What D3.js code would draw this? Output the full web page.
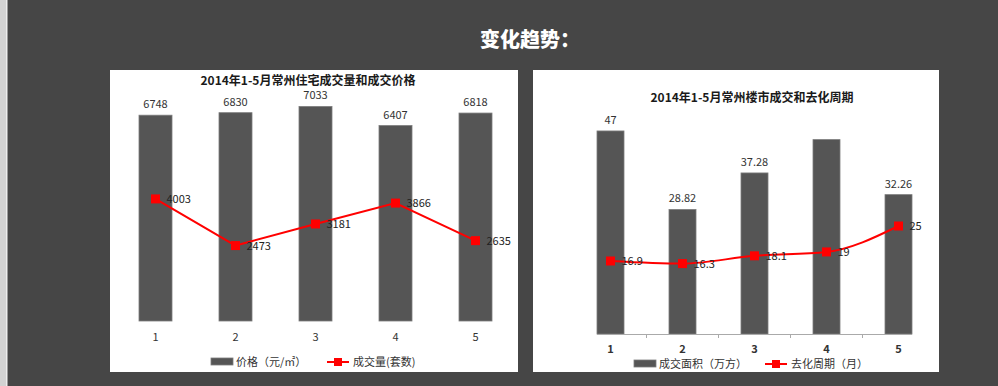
<!DOCTYPE html>
<html>
<head>
<meta charset="utf-8">
<script src="https://cdn.jsdelivr.net/npm/d3@7"></script>
<style>
  body { margin: 0; background: #464646; }
  svg { display: block; }
  text { font-family: "Noto Sans CJK SC", "Noto Sans", sans-serif; }
</style>
</head>
<body>
<script>
// data
const months = ['1', '2', '3', '4', '5']

const price = [6748, 6830, 7033, 6407, 6818]
const volume = [4003, 2473, 3181, 3866, 2635]

const area = [47, 28.82, 37.28, 45, 32.26]
const areaLabels = ['47', '28.82', '37.28', '', '32.26']
const cycle = [16.9, 16.3, 18.1, 19, 25]

let svg = d3.select('body')
    .append('svg')
    .attr('width', 998)
    .attr('height', 386)

// page frame
svg.append('rect').attr('x', 0).attr('y', 0).attr('width', 998).attr('height', 386).attr('fill', '#464646')
svg.append('rect').attr('x', 0).attr('y', 0).attr('width', 6).attr('height', 386).attr('fill', '#d2d2d2')
svg.append('rect').attr('x', 6).attr('y', 0).attr('width', 1.5).attr('height', 386).attr('fill', '#ececec')

svg.append('text')
    .text('变化趋势：')
    .attr('x', 530)
    .attr('y', 47)
    .attr('text-anchor', 'middle')
    .attr('fill', '#fff')
    .attr('font-size', 20)
    .attr('font-weight', 900)

function drawChart(o) {
    let g = svg.append('g')
    g.append('rect')
        .attr('x', o.box[0]).attr('y', o.box[1])
        .attr('width', o.box[2]).attr('height', o.box[3])
        .attr('fill', '#fff')

    g.append('text')
        .text(o.title)
        .attr('x', o.titleX).attr('y', o.titleY)
        .attr('text-anchor', 'middle')
        .attr('font-size', 12)
        .attr('font-weight', 'bold')
        .attr('fill', '#1a1a1a')

    let x = d3.scalePoint().domain(months).range(o.xRange)
    let y = d3.scaleLinear().domain(o.yDomain).range(o.yRange)

    // bars
    g.selectAll('.bar')
        .data(o.bars)
        .enter()
        .append('rect')
        .attr('x', (d, i) => x(months[i]) - o.barW / 2)
        .attr('y', d => y(d))
        .attr('width', o.barW)
        .attr('height', d => y(0) - y(d))
        .attr('fill', '#555')
        .attr('stroke', '#7c7c7c')
        .attr('stroke-width', 0.8)

    g.selectAll('.barlabel')
        .data(o.barLabels)
        .enter()
        .append('text')
        .text(d => d)
        .attr('x', (d, i) => x(months[i]))
        .attr('y', (d, i) => y(o.bars[i]) - 7)
        .attr('text-anchor', 'middle')
        .attr('font-size', 11)
        .attr('fill', '#333')

    // x axis
    if (o.axis) {
        g.append('line')
            .attr('x1', x(months[0]) - o.barW / 2).attr('x2', x(months[4]) + o.barW / 2)
            .attr('y1', y(0) + 0.5).attr('y2', y(0) + 0.5)
            .attr('stroke', '#aaa')
        let step = x.step()
        g.selectAll('.tick')
            .data(months.slice(0, 4))
            .enter()
            .append('line')
            .attr('x1', d => x(d) + step / 2).attr('x2', d => x(d) + step / 2)
            .attr('y1', y(0)).attr('y2', y(0) + 4)
            .attr('stroke', '#aaa')
    }
    g.selectAll('.xlabel')
        .data(months)
        .enter()
        .append('text')
        .text(d => d)
        .attr('x', d => x(d))
        .attr('y', o.xLabelY)
        .attr('text-anchor', 'middle')
        .attr('font-size', 11)
        .attr('font-weight', o.axis ? 'bold' : 'normal')
        .attr('fill', '#333')

    // line
    let line = d3.line()
        .x((d, i) => x(months[i]))
        .y(d => y(d))
        .curve(o.curve)
    g.append('path')
        .datum(o.line)
        .attr('d', line)
        .attr('fill', 'none')
        .attr('stroke', '#f00')
        .attr('stroke-width', 2)

    g.selectAll('.marker')
        .data(o.line)
        .enter()
        .append('rect')
        .attr('x', (d, i) => x(months[i]) - 4.5)
        .attr('y', d => y(d) - 4.5)
        .attr('width', 9)
        .attr('height', 9)
        .attr('fill', '#f00')

    g.selectAll('.linelabel')
        .data(o.line)
        .enter()
        .append('text')
        .text(d => d)
        .attr('x', (d, i) => x(months[i]) + 11)
        .attr('y', d => y(d) + 4)
        .attr('font-size', 11)
        .attr('fill', '#222')

    // legend
    let lg = g.append('g').attr('transform', `translate(${o.legendX},${o.legendY})`)
    lg.append('rect').attr('x', 0).attr('y', -4).attr('width', 22).attr('height', 7)
        .attr('fill', '#555').attr('stroke', '#7c7c7c').attr('stroke-width', 0.8)
    lg.append('text').text(o.legend[0]).attr('x', 25).attr('y', 4)
        .attr('font-size', 11).attr('fill', '#333')
    lg.append('line').attr('x1', o.legendGap).attr('x2', o.legendGap + 22).attr('y1', 0).attr('y2', 0)
        .attr('stroke', '#f00').attr('stroke-width', 2)
    lg.append('rect').attr('x', o.legendGap + 7).attr('y', -4).attr('width', 8).attr('height', 8).attr('fill', '#f00')
    lg.append('text').text(o.legend[1]).attr('x', o.legendGap + 26).attr('y', 4)
        .attr('font-size', 11).attr('fill', '#333')
}

drawChart({
    box: [110, 70, 408, 302],
    title: '2014年1-5月常州住宅成交量和成交价格',
    titleX: 308, titleY: 85,
    xRange: [155.5, 475.5],
    yDomain: [0, 8000], yRange: [321, 77],
    barW: 33,
    bars: price,
    barLabels: price,
    line: volume,
    curve: d3.curveLinear,
    axis: false,
    xLabelY: 341,
    legend: ['价格（元/㎡）', '成交量(套数)'],
    legendX: 211, legendY: 362, legendGap: 116
})

drawChart({
    box: [533, 70, 406, 302],
    title: '2014年1-5月常州楼市成交和去化周期',
    titleX: 752, titleY: 102,
    xRange: [610.5, 898.5],
    yDomain: [0, 50], yRange: [334, 118],
    barW: 27,
    bars: area,
    barLabels: areaLabels,
    line: cycle,
    curve: d3.curveMonotoneX,
    axis: true,
    xLabelY: 353,
    legend: ['成交面积（万方）', '去化周期（月）'],
    legendX: 634, legendY: 364, legendGap: 131
})
</script>
</body>
</html>
